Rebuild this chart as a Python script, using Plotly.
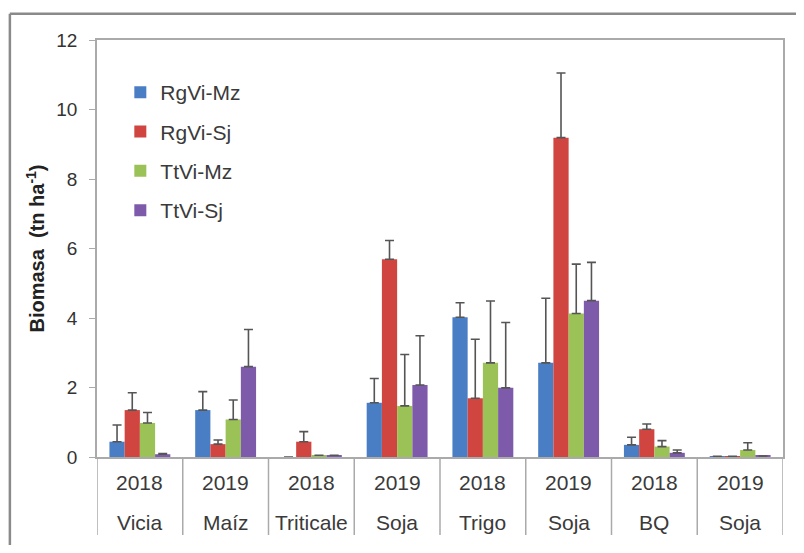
import plotly.graph_objects as go

years = ["2018", "2019", "2018", "2019", "2018", "2019", "2018", "2019"]
crops = ["Vicia", "Maíz", "Triticale", "Soja", "Trigo", "Soja", "BQ", "Soja"]

series_names = ["RgVi-Mz", "RgVi-Sj", "TtVi-Mz", "TtVi-Sj"]
values = {
    "RgVi-Mz": [0.44, 1.35, 0.0, 1.56, 4.02, 2.71, 0.35, 0.02],
    "RgVi-Sj": [1.35, 0.37, 0.44, 5.69, 1.69, 9.19, 0.80, 0.02],
    "TtVi-Mz": [0.98, 1.08, 0.05, 1.47, 2.71, 4.13, 0.30, 0.20],
    "TtVi-Sj": [0.08, 2.60, 0.05, 2.07, 1.99, 4.50, 0.12, 0.03],
}
errors = {
    "RgVi-Mz": [0.48, 0.53, 0.0, 0.70, 0.42, 1.86, 0.22, 0.0],
    "RgVi-Sj": [0.50, 0.12, 0.29, 0.54, 1.70, 1.86, 0.15, 0.0],
    "TtVi-Mz": [0.30, 0.56, 0.0, 1.48, 1.78, 1.42, 0.17, 0.21],
    "TtVi-Sj": [0.02, 1.07, 0.0, 1.42, 1.88, 1.10, 0.08, 0.0],
}
colors = ["#4A7EC4", "#D0453F", "#9BC256", "#7E5BAA"]

positions = list(range(len(years)))
FONT = "Liberation Sans, Arial, sans-serif"

fig = go.Figure()
for i, name in enumerate(series_names):
    fig.add_trace(go.Bar(
        x=positions,
        y=values[name],
        name=name,
        legendgroup=name,
        marker=dict(color=colors[i], line=dict(width=0)),
        error_y=dict(type="data", symmetric=False, array=errors[name],
                     arrayminus=[0] * len(years), color="#555555",
                     thickness=1.6, width=4.5),
    ))

fig.update_layout(
    width=788, height=537,
    margin=dict(l=89, r=13, t=32, b=88),
    paper_bgcolor="white", plot_bgcolor="white",
    barmode="group", bargap=0.29, bargroupgap=0,
    font=dict(family=FONT, color="#3a3a3a"),
    legend=dict(x=0.034, y=0.923, xanchor="left", yanchor="top",
                bgcolor="rgba(0,0,0,0)", font=dict(size=21, color="#3a3a3a"),
                traceorder="grouped", tracegroupgap=9),
    showlegend=True,
)
fig.update_yaxes(
    range=[0, 12], dtick=2, showgrid=False, zeroline=False, automargin=False,
    showline=True, linecolor="#aaaaaa", linewidth=1.5, mirror=True,
    ticks="outside", ticklen=6, tickcolor="#aaaaaa", ticklabelstandoff=8,
    tickfont=dict(size=19, color="#333333"),
    title=dict(text="<b>Biomasa  (tn ha<sup>-1</sup>)</b>", font=dict(size=20, color="#222222"), standoff=6),
)
fig.update_xaxes(
    range=[-0.5, len(years) - 0.5], showgrid=False, automargin=False,
    showline=True, linecolor="#aaaaaa", linewidth=1.5, mirror=True,
    showticklabels=False, ticks="",
)

# category labels and dividers below the axis
for i, (yr, cr) in enumerate(zip(years, crops)):
    fig.add_annotation(x=i, y=-0.06, xref="x", yref="paper", text=yr, showarrow=False,
                       yanchor="middle", font=dict(size=21, color="#3a3a3a", family=FONT))
    fig.add_annotation(x=i, y=-0.156, xref="x", yref="paper", text=cr, showarrow=False,
                       yanchor="middle", font=dict(size=21, color="#3a3a3a", family=FONT))
for k in range(len(years) + 1):
    fig.add_shape(type="line", xref="x", yref="paper", x0=k - 0.5, x1=k - 0.5, y0=0, y1=-0.187,
                  line=dict(color="#aaaaaa", width=1.5))

# outer frame (top and left edges visible)
fig.add_shape(type="line", xref="paper", yref="paper", x0=-0.127, x1=1.05, y0=1.063, y1=1.063,
              line=dict(color="#8a8a8a", width=2.5))
fig.add_shape(type="line", xref="paper", yref="paper", x0=-0.127, x1=-0.127, y0=1.063, y1=-0.25,
              line=dict(color="#8a8a8a", width=2.5))

fig.write_html("out.html")
